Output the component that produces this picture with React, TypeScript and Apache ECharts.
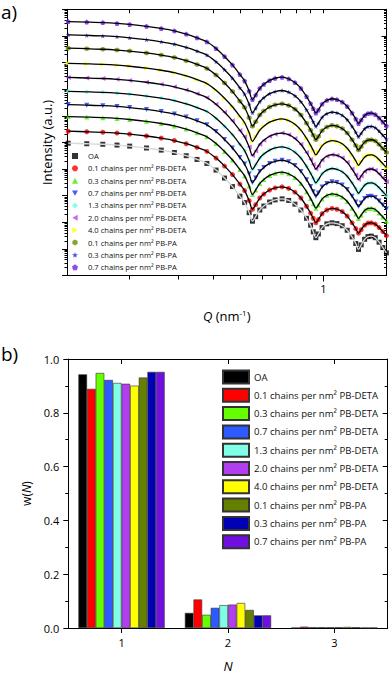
import React, { useEffect, useRef } from 'react';
import * as echarts from 'echarts';

const FONT = '"Open Sans", "DejaVu Sans", sans-serif';

// ---------- Panel a: SAXS curves (log10 intensity, arbitrary offsets) ----------
const Q = [0.12, 0.14, 0.16, 0.18, 0.2, 0.23, 0.26, 0.29, 0.32, 0.35, 0.38, 0.41, 0.44, 0.47, 0.5, 0.52, 0.54, 0.555, 0.57, 0.59, 0.61, 0.64, 0.67, 0.71, 0.75, 0.79, 0.83, 0.87, 0.9, 0.92, 0.94, 0.96, 0.99, 1.03, 1.075, 1.12, 1.17, 1.22, 1.27, 1.31, 1.34, 1.37, 1.41, 1.45, 1.49, 1.54, 1.59, 1.64, 1.69];

const logI_OA = [4.97, 4.95, 4.93, 4.9, 4.86, 4.79, 4.71, 4.62, 4.5, 4.36, 4.21, 3.96, 3.66, 3.34, 2.98, 2.74, 2.36, 2.04, 2.21, 2.46, 2.61, 2.76, 2.84, 2.88, 2.82, 2.68, 2.46, 2.15, 1.89, 1.64, 1.42, 1.56, 1.8, 1.94, 1.98, 1.95, 1.87, 1.7, 1.45, 1.2, 0.98, 1.15, 1.36, 1.46, 1.48, 1.42, 1.25, 1.05, 0.85];
const logI_DETA01 = [5.42, 5.4, 5.38, 5.35, 5.31, 5.24, 5.16, 5.07, 4.95, 4.81, 4.66, 4.41, 4.11, 3.79, 3.43, 3.19, 2.81, 2.49, 2.66, 2.91, 3.06, 3.21, 3.29, 3.33, 3.27, 3.13, 2.91, 2.6, 2.34, 2.15, 1.98, 2.1, 2.32, 2.46, 2.52, 2.49, 2.4, 2.23, 1.98, 1.76, 1.59, 1.72, 1.89, 1.97, 1.98, 1.93, 1.8, 1.65, 1.5];
const logI_DETA03 = [5.97, 5.95, 5.93, 5.9, 5.86, 5.79, 5.71, 5.62, 5.5, 5.36, 5.21, 4.96, 4.66, 4.34, 3.98, 3.74, 3.36, 3.04, 3.21, 3.46, 3.61, 3.76, 3.84, 3.88, 3.82, 3.68, 3.46, 3.15, 2.89, 2.7, 2.53, 2.65, 2.87, 3.01, 3.07, 3.04, 2.95, 2.78, 2.53, 2.31, 2.14, 2.27, 2.44, 2.52, 2.53, 2.48, 2.35, 2.2, 2.05];
const logI_DETA07 = [6.42, 6.4, 6.38, 6.35, 6.31, 6.24, 6.16, 6.07, 5.95, 5.81, 5.66, 5.41, 5.11, 4.79, 4.43, 4.19, 3.81, 3.49, 3.66, 3.91, 4.06, 4.21, 4.29, 4.33, 4.27, 4.13, 3.91, 3.6, 3.34, 3.15, 2.98, 3.1, 3.32, 3.46, 3.52, 3.49, 3.4, 3.23, 2.98, 2.76, 2.59, 2.72, 2.89, 2.97, 2.98, 2.93, 2.8, 2.65, 2.5];
const logI_DETA13 = [6.92, 6.9, 6.88, 6.85, 6.81, 6.74, 6.66, 6.57, 6.45, 6.31, 6.16, 5.91, 5.61, 5.29, 4.93, 4.69, 4.31, 3.99, 4.16, 4.41, 4.56, 4.71, 4.79, 4.83, 4.77, 4.63, 4.41, 4.1, 3.84, 3.65, 3.48, 3.6, 3.82, 3.96, 4.02, 3.99, 3.9, 3.73, 3.48, 3.26, 3.09, 3.22, 3.39, 3.47, 3.48, 3.43, 3.3, 3.15, 3.0];
const logI_DETA20 = [7.44, 7.42, 7.4, 7.37, 7.33, 7.26, 7.18, 7.09, 6.97, 6.83, 6.68, 6.43, 6.13, 5.81, 5.45, 5.21, 4.83, 4.51, 4.68, 4.93, 5.08, 5.23, 5.31, 5.35, 5.29, 5.15, 4.93, 4.62, 4.36, 4.17, 4.0, 4.12, 4.34, 4.48, 4.54, 4.51, 4.42, 4.25, 4.0, 3.78, 3.61, 3.74, 3.91, 3.99, 4.0, 3.95, 3.82, 3.67, 3.52];
const logI_DETA40 = [7.97, 7.95, 7.93, 7.9, 7.86, 7.79, 7.71, 7.62, 7.5, 7.36, 7.21, 6.96, 6.66, 6.34, 5.98, 5.74, 5.36, 5.04, 5.21, 5.46, 5.61, 5.76, 5.84, 5.88, 5.82, 5.68, 5.46, 5.15, 4.89, 4.7, 4.53, 4.65, 4.87, 5.01, 5.07, 5.04, 4.95, 4.78, 4.53, 4.31, 4.14, 4.27, 4.44, 4.52, 4.53, 4.48, 4.35, 4.2, 4.05];
const logI_PA01 = [8.54, 8.52, 8.5, 8.47, 8.43, 8.36, 8.28, 8.19, 8.07, 7.93, 7.78, 7.53, 7.23, 6.91, 6.55, 6.31, 5.93, 5.61, 5.78, 6.03, 6.18, 6.33, 6.41, 6.45, 6.39, 6.25, 6.03, 5.72, 5.46, 5.27, 5.1, 5.22, 5.44, 5.58, 5.64, 5.61, 5.52, 5.35, 5.1, 4.88, 4.71, 4.84, 5.01, 5.09, 5.1, 5.05, 4.92, 4.77, 4.62];
const logI_PA03 = [9.04, 9.02, 9.0, 8.97, 8.93, 8.86, 8.78, 8.69, 8.57, 8.43, 8.28, 8.03, 7.73, 7.41, 7.05, 6.81, 6.43, 6.11, 6.28, 6.53, 6.68, 6.83, 6.91, 6.95, 6.89, 6.75, 6.53, 6.22, 5.96, 5.77, 5.6, 5.72, 5.94, 6.08, 6.14, 6.11, 6.02, 5.85, 5.6, 5.38, 5.21, 5.34, 5.51, 5.59, 5.6, 5.55, 5.42, 5.27, 5.12];
const logI_PA07 = [9.54, 9.52, 9.5, 9.47, 9.43, 9.36, 9.28, 9.19, 9.07, 8.93, 8.78, 8.53, 8.23, 7.91, 7.55, 7.31, 6.93, 6.61, 6.78, 7.03, 7.18, 7.33, 7.41, 7.45, 7.39, 7.25, 7.03, 6.72, 6.46, 6.27, 6.1, 6.22, 6.44, 6.58, 6.64, 6.61, 6.52, 6.35, 6.1, 5.88, 5.71, 5.84, 6.01, 6.09, 6.1, 6.05, 5.92, 5.77, 5.62];

const Q_MIN = 0.1188;
const Q_MAX = 1.691;
const Q_TICKS_MINOR = [0.2, 0.3, 0.4, 0.5, 0.6, 0.7, 0.8, 0.9];
const Q_TICKS_MAJOR = [1];
const DECADES = [0, 1, 2, 3, 4, 5, 6, 7, 8, 9, 10];
const DECADE_SUB = [2, 3, 4, 5, 6, 7, 8, 9];

// ---------- Panel b: w(N) ----------
const N_CATS = ['1', '2', '3'];
const w_OA = [0.943, 0.056, 0.001];
const w_DETA01 = [0.889, 0.106, 0.005];
const w_DETA03 = [0.948, 0.049, 0.003];
const w_DETA07 = [0.922, 0.075, 0.003];
const w_DETA13 = [0.911, 0.085, 0.003];
const w_DETA20 = [0.908, 0.087, 0.003];
const w_DETA40 = [0.901, 0.093, 0.004];
const w_PA01 = [0.931, 0.067, 0.003];
const w_PA03 = [0.952, 0.047, 0.001];
const w_PA07 = [0.952, 0.047, 0.001];

const NAMES = [
  'OA',
  '0.1 chains per nm² PB-DETA',
  '0.3 chains per nm² PB-DETA',
  '0.7 chains per nm² PB-DETA',
  '1.3 chains per nm² PB-DETA',
  '2.0 chains per nm² PB-DETA',
  '4.0 chains per nm² PB-DETA',
  '0.1 chains per nm² PB-PA',
  '0.3 chains per nm² PB-PA',
  '0.7 chains per nm² PB-PA',
];
const CURVES = [logI_OA, logI_DETA01, logI_DETA03, logI_DETA07, logI_DETA13, logI_DETA20, logI_DETA40, logI_PA01, logI_PA03, logI_PA07];
const WEIGHTS = [w_OA, w_DETA01, w_DETA03, w_DETA07, w_DETA13, w_DETA20, w_DETA40, w_PA01, w_PA03, w_PA07];

const MARKER_COLORS = ['#000000', '#ff0000', '#44ee00', '#1a35f0', '#66ffee', '#c040f0', '#ffff00', '#6b8a00', '#1a2bd0', '#7020e8'];
const BAR_COLORS = ['#000000', '#ff0000', '#66ff00', '#2d5bff', '#80ffe6', '#b23ef0', '#ffff00', '#648000', '#0000b4', '#7010e0'];
const SYMBOLS = [
  'rect',
  'circle',
  'triangle',
  'path://M0,0L10,0L5,9Z',
  'diamond',
  'path://M10,0L10,10L1,5Z',
  'path://M0,0L9,5L0,10Z',
  'path://M5,0L9.33,2.5L9.33,7.5L5,10L0.67,7.5L0.67,2.5Z',
  'path://M5,0L6.2,3.6L10,3.6L6.9,5.9L8.1,9.5L5,7.3L1.9,9.5L3.1,5.9L0,3.6L3.8,3.6Z',
  'path://M5,0L10,3.8L8.1,10L1.9,10L0,3.8Z',
];

const lg = (v: number) => Math.log10(v);
const XMIN = lg(Q_MIN);
const XMAX = lg(Q_MAX);
const yMinor: number[] = [];
DECADES.slice(0, -1).forEach((d) => DECADE_SUB.forEach((m) => yMinor.push(d + lg(m))));

const black = { color: '#000', width: 1 };
const noLine = { show: false, onZero: false };

function buildOption() {
  const scatter = CURVES.map((arr, i) => ({
    type: 'scatter',
    name: NAMES[i],
    xAxisIndex: 0,
    yAxisIndex: 0,
    data: Q.map((q, j) => [lg(q), arr[j]]),
    symbol: SYMBOLS[i],
    symbolSize: 5,
    itemStyle: { color: MARKER_COLORS[i] },
    z: 2,
    silent: true,
  }));
  const fits = CURVES.map((arr, i) => ({
    type: 'line',
    name: 'fit ' + NAMES[i],
    xAxisIndex: 0,
    yAxisIndex: 0,
    data: Q.map((q, j) => [lg(q), arr[j]]),
    symbol: 'none',
    showSymbol: false,
    smooth: 0.3,
    lineStyle: i === 0 ? { color: '#d8d8d8', width: 1.3 } : { color: '#000', width: 1.3 },
    z: 3,
    silent: true,
  }));
  const bars = WEIGHTS.map((arr, i) => ({
    type: 'bar',
    name: 'b:' + NAMES[i],
    xAxisIndex: 3,
    yAxisIndex: 4,
    data: arr,
    barGap: '0%',
    barCategoryGap: '19%',
    itemStyle: { color: BAR_COLORS[i], borderColor: '#333', borderWidth: 0.6 },
  }));

  const hidden = { show: false };
  return {
    animation: false,
    backgroundColor: '#fff',
    textStyle: { fontFamily: FONT },
    grid: [
      { left: 67, top: 9.3, width: 319.5, height: 266.2 },
      { left: 68.3, top: 359, width: 319.4, height: 269.3 },
    ],
    legend: [
      {
        data: NAMES,
        orient: 'vertical',
        left: 72,
        top: 149.8,
        itemWidth: 6,
        itemHeight: 6,
        itemGap: 0,
        padding: 0,
        textStyle: { fontSize: 7.6, lineHeight: 12.37, color: '#111', fontFamily: FONT, padding: [0, 0, 0, 5] },
      },
      {
        data: NAMES.map((n) => 'b:' + n),
        formatter: (n: string) => n.replace(/^b:/, ''),
        orient: 'vertical',
        left: 222,
        top: 369.5,
        icon: 'rect',
        itemWidth: 26,
        itemHeight: 13,
        itemGap: 3.3,
        padding: 0,
        textStyle: { fontSize: 9.6, lineHeight: 13, color: '#111', fontFamily: FONT },
      },
    ],
    xAxis: [
      {
        gridIndex: 0, type: 'value', min: XMIN, max: XMAX, position: 'bottom',
        axisLine: { show: true, onZero: false, lineStyle: black },
        axisTick: { show: true, customValues: Q_TICKS_MINOR.map(lg), length: 4, lineStyle: black },
        axisLabel: { show: true, customValues: Q_TICKS_MAJOR.map(lg), formatter: (v: number) => String(Math.round(Math.pow(10, v))), fontSize: 11, color: '#000', margin: 7, fontFamily: FONT },
        splitLine: hidden,
        name: '{i|Q} (nm{s|-1})',
        nameLocation: 'middle',
        nameGap: 33,
        nameTextStyle: {
          fontSize: 13, color: '#000', fontFamily: FONT,
          rich: {
            i: { fontSize: 13, fontStyle: 'italic', fontFamily: FONT, color: '#000' },
            s: { fontSize: 8, verticalAlign: 'top', padding: [0, 0, 6, 0], fontFamily: FONT, color: '#000' },
          },
        },
      },
      {
        gridIndex: 0, type: 'value', min: XMIN, max: XMAX, position: 'bottom',
        axisLine: noLine,
        axisTick: { show: true, customValues: Q_TICKS_MAJOR.map(lg), length: 6, lineStyle: black },
        axisLabel: hidden, splitLine: hidden,
      },
      {
        gridIndex: 0, type: 'value', min: XMIN, max: XMAX, position: 'top',
        axisLine: { show: true, onZero: false, lineStyle: black },
        axisTick: { show: true, inside: true, customValues: Q_TICKS_MINOR.concat(Q_TICKS_MAJOR).map(lg), length: 4, lineStyle: black },
        axisLabel: hidden, splitLine: hidden,
      },
      {
        gridIndex: 1, type: 'category', data: N_CATS, position: 'bottom',
        axisLine: { show: true, onZero: false, lineStyle: black },
        axisTick: { show: true, alignWithLabel: true, length: 5, lineStyle: black },
        axisLabel: { fontSize: 11, color: '#000', margin: 9, fontFamily: FONT },
        splitLine: hidden,
        name: 'N',
        nameLocation: 'middle',
        nameGap: 31,
        nameTextStyle: { fontSize: 13, fontStyle: 'italic', color: '#000', fontFamily: FONT },
      },
      {
        gridIndex: 1, type: 'category', data: N_CATS, position: 'top',
        axisLine: { show: true, onZero: false, lineStyle: black },
        axisTick: { show: true, inside: true, alignWithLabel: true, length: 5, lineStyle: black },
        axisLabel: hidden, splitLine: hidden,
      },
    ],
    yAxis: [
      {
        gridIndex: 0, type: 'value', min: 0, max: 10, position: 'left',
        axisLine: { show: true, onZero: false, lineStyle: black },
        axisTick: { show: true, customValues: DECADES, length: 5, lineStyle: black },
        axisLabel: hidden, splitLine: hidden,
        name: 'Intensity (a.u.)',
        nameLocation: 'middle',
        nameGap: 14,
        nameTextStyle: { fontSize: 13, color: '#000', fontFamily: FONT },
      },
      {
        gridIndex: 0, type: 'value', min: 0, max: 10, position: 'left',
        axisLine: noLine,
        axisTick: { show: true, customValues: yMinor, length: 2.5, lineStyle: black },
        axisLabel: hidden, splitLine: hidden,
      },
      {
        gridIndex: 0, type: 'value', min: 0, max: 10, position: 'right',
        axisLine: { show: true, onZero: false, lineStyle: black },
        axisTick: { show: true, inside: true, customValues: DECADES, length: 5, lineStyle: black },
        axisLabel: hidden, splitLine: hidden,
      },
      {
        gridIndex: 0, type: 'value', min: 0, max: 10, position: 'right',
        axisLine: noLine,
        axisTick: { show: true, inside: true, customValues: yMinor, length: 2.5, lineStyle: black },
        axisLabel: hidden, splitLine: hidden,
      },
      {
        gridIndex: 1, type: 'value', min: 0, max: 1, interval: 0.2, position: 'left',
        axisLine: { show: true, onZero: false, lineStyle: black },
        axisTick: { show: true, length: 5, lineStyle: black },
        minorTick: { show: true, splitNumber: 2, length: 3, lineStyle: black },
        axisLabel: { fontSize: 11, color: '#000', margin: 9, formatter: (v: number) => v.toFixed(1), fontFamily: FONT },
        splitLine: hidden,
        name: 'w({i|N})',
        nameLocation: 'middle',
        nameGap: 24,
        nameTextStyle: {
          fontSize: 12, color: '#000', fontFamily: FONT,
          rich: { i: { fontSize: 12, fontStyle: 'italic', color: '#000', fontFamily: FONT } },
        },
      },
      {
        gridIndex: 1, type: 'value', min: 0, max: 1, interval: 0.2, position: 'right',
        axisLine: { show: true, onZero: false, lineStyle: black },
        axisTick: { show: true, inside: true, length: 5, lineStyle: black },
        minorTick: { show: true, splitNumber: 2, length: 3, lineStyle: black },
        axisLabel: hidden, splitLine: hidden,
      },
    ],
    graphic: [
      { type: 'text', left: 1, top: 2, style: { text: 'a)', fontSize: 19, fontFamily: FONT, fill: '#000' } },
      { type: 'text', left: 1, top: 344, style: { text: 'b)', fontSize: 19, fontFamily: FONT, fill: '#000' } },
    ],
    series: [...scatter, ...fits, ...bars],
  };
}

export default function App() {
  const ref = useRef<HTMLDivElement>(null);
  useEffect(() => {
    if (!ref.current) return;
    const chart = echarts.init(ref.current, null, { renderer: 'svg', width: 390, height: 673 });
    chart.setOption(buildOption() as any);
    return () => chart.dispose();
  }, []);
  return (
    <div
      ref={ref}
      style={{ position: 'fixed', left: 0, top: 0, width: 390, height: 673, background: '#fff' }}
    />
  );
}
